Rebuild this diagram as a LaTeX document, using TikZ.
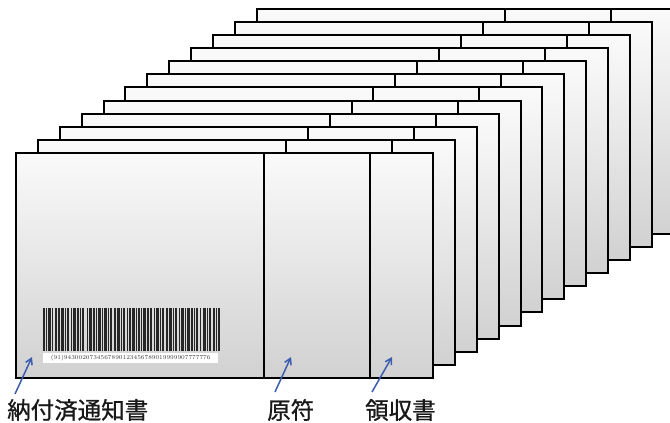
\documentclass[tikz,border=0pt]{standalone}
\usepackage{fontspec}
\newfontfamily\cjk[FakeBold=0.8]{Noto Sans CJK JP}
\usetikzlibrary{calc,arrows.meta}
\definecolor{arrowblue}{HTML}{3A5DB0}
\begin{document}
\begin{tikzpicture}[x=1pt,y=-1pt,
  card/.style={draw=black, line width=2pt, top color=gray!4, bottom color=gray!36,
    minimum width=417pt, minimum height=225pt, inner sep=0pt, outer sep=0pt, anchor=north west},
  divider/.style={black, line width=2pt},
  bar/.style={fill=black!85, draw=none},
  lab/.style={font=\cjk\fontsize{23.5}{24}\selectfont, text=black!90, anchor=west, inner sep=0pt},
  arr/.style={draw=arrowblue, line width=1.5pt, -{Straight Barb[length=6pt,width=7pt]}}]
\useasboundingbox (0,0) rectangle (670,423);
% stack of cards, back to front
\foreach \k/\cx/\cy in {11/257/9, 10/235/22, 9/213/35, 8/191/48, 7/169/61, 6/147/74, 5/125/87, 4/104/101, 3/82/114, 2/60/127, 1/38/140, 0/16/153} {
  \node[card] (c\k) at (\cx,\cy) {};
  \draw[divider] ($(c\k.north west)+(248,0)$) -- ($(c\k.south west)+(248,0)$);
  \draw[divider] ($(c\k.north west)+(354,0)$) -- ($(c\k.south west)+(354,0)$);
}
% barcode on the front card
\foreach \x/\w in {43/1.5, 46/1, 48/3, 52/1, 55/2, 58/1.5, 61/3, 65/1, 67/2, 71/1, 73/3, 77/1.5, 80/1, 82/2, 87/1, 89/3, 93/2, 96/1, 98/2.5, 102/1, 104/3, 108/1, 110/2, 114/1.5, 117/3, 121/1, 123/2, 127/1, 129/1.5, 132/3, 136/1, 138/2, 141/1, 143/3, 147/1.5, 150/2, 154/1, 156/3, 160/1, 162/2, 166/1.5, 169/3, 173/1, 175/2, 179/1, 181/2.5, 185/1, 187/3, 191/1.5, 194/1, 196/2, 200/1, 203/3, 207/1, 209/2, 213/1.5, 216/1, 218/2}
  \fill[bar] (\x,308) rectangle ({\x+\w},351);
\node[fill=white, minimum width=175pt, minimum height=10pt, inner sep=0pt, anchor=north west,
  font=\fontsize{6}{6}\selectfont, text=black!75] (code) at (43,353) {(91)9430020734567890123456789019999907777776};
% labels
\node[lab] (l1) at (7,410) {納付済通知書};
\node[lab] (l2) at (267,410) {原符};
\node[lab] (l3) at (365,410) {領収書};
% arrows
\coordinate (t1) at (15,394); \coordinate (h1) at (32,357);
\coordinate (t2) at (275,392); \coordinate (h2) at (291,357);
\coordinate (t3) at (372,392); \coordinate (h3) at (392,357);
\draw[arr] (t1) -- (h1);
\draw[arr] (t2) -- (h2);
\draw[arr] (t3) -- (h3);
\end{tikzpicture}
\end{document}
